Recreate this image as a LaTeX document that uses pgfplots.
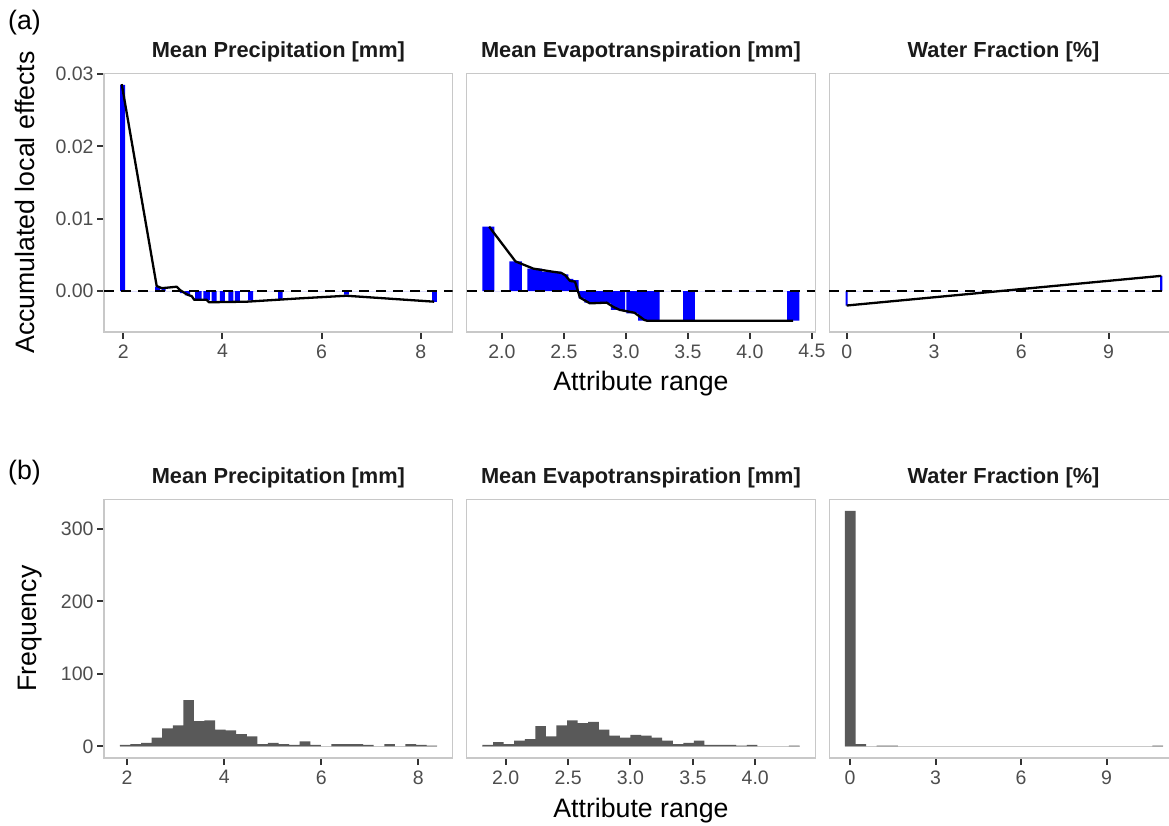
\documentclass[border=0pt]{standalone}
\usepackage{fontspec}
\setmainfont{Liberation Sans}
\usepackage{pgfplots}
\pgfplotsset{compat=1.18}

\definecolor{bordergray}{HTML}{C8C8C8}
\definecolor{tickgray}{HTML}{333333}
\definecolor{labelgray}{HTML}{4D4D4D}
\definecolor{histgray}{HTML}{595959}
\definecolor{striptext}{HTML}{1A1A1A}
\definecolor{zerogray}{HTML}{D9D9D9}

\newcommand\ticksize{\fontsize{19.5}{22}\selectfont}
\newcommand\titlesize{\fontsize{26.7}{30}\selectfont}
\newcommand\stripsize{\fontsize{21.8}{25}\selectfont\bfseries}

\pgfplotsset{
  panel/.style={
    scale only axis, width=348.7pt, height=258.7pt, anchor=north west,
    axis line style={draw=bordergray, line width=1.3pt},
    tick pos=left, tick align=outside, major tick length=7pt,
    major tick style={draw=tickgray, line width=2pt},
    ticklabel style={font=\ticksize, text=labelgray},
    xticklabel style={yshift=-2pt},
    scaled ticks=false,
    title style={at={(axis description cs:0.5,1)}, anchor=base, yshift=10pt,
      font=\stripsize, text=striptext, inner sep=0pt},
    xlabel style={font=\titlesize, inner sep=0pt},
    ylabel style={font=\titlesize, inner sep=0pt},
  },
  ale/.style={panel, ymin=-0.00566, ymax=0.0301},
  hist/.style={panel, ymin=-16, ymax=341},
  bars/.style={ybar interval, fill=blue, draw=none},
  hbars/.style={ybar interval, fill=histgray, draw=none},
  aleline/.style={black, line width=2.3pt, line join=round, mark=none},
  zeroline/.style={black, line width=2.2pt, dash pattern=on 10pt off 7pt, mark=none},
  baseline/.style={zerogray, line width=1pt, mark=none},
}

\begin{document}
\begin{tikzpicture}
\path[use as bounding box] (0pt,0pt) rectangle (1169pt,825pt);
\clip (0pt,0pt) rectangle (1169pt,825pt);

\node[anchor=base west, font=\titlesize, inner sep=0pt] at (8pt,795pt) {(a)};
\node[anchor=base west, font=\titlesize, inner sep=0pt] at (8pt,345pt) {(b)};

% ---------- (a) accumulated local effects ----------
\begin{axis}[ale, at={(104pt,751.7pt)},
  xmin=1.61, xmax=8.645,
  xtick={2,4,6,8}, xticklabels={2,4,6,8},
  ytick={0,0.01,0.02,0.03}, yticklabels={0.00,0.01,0.02,0.03},
  title={Mean Precipitation [mm]},
  ylabel={Accumulated local effects},
  ylabel style={at={(axis description cs:-0.198,0.5)}, anchor=south},
]
\addplot[bars] coordinates {
  (1.933,0.0285) (2.034,0) (2.64,0.0006) (2.74,0) (2.774,0.0003) (2.855,0)
  (3.143,-0.0003) (3.224,0) (3.244,-0.0006) (3.345,0) (3.446,-0.0012) (3.581,0)
  (3.613,-0.0013) (3.748,0) (3.782,-0.0014) (3.883,0) (3.95,-0.0014) (4.05,0)
  (4.117,-0.0014) (4.218,0) (4.252,-0.0014) (4.353,0) (4.52,-0.0013) (4.62,0)
  (5.125,-0.0011) (5.214,0) (6.456,-0.0005) (6.55,0) (8.23,-0.0015) (8.325,0)
};
\addplot[zeroline] coordinates {(1.61,0) (8.645,0)};
\addplot[aleline] coordinates {
  (1.968,0.0286) (2.673,0.0007) (2.774,0.0004) (2.875,0.00046) (3.077,0.0006)
  (3.143,0.00014) (3.244,-0.0003) (3.31,-0.00055) (3.38,-0.0007) (3.43,-0.0012)
  (3.68,-0.0012) (3.73,-0.00155) (4.49,-0.00147) (5.56,-0.00101) (6.5,-0.00065)
  (8.27,-0.00147)
};
\end{axis}

\begin{axis}[ale, at={(466.6pt,751.7pt)},
  xmin=1.716, xmax=4.528,
  xtick={2,2.5,3,3.5,4,4.5}, xticklabels={2.0,2.5,3.0,3.5,4.0,4.5},
  ytick=\empty,
  title={Mean Evapotranspiration [mm]},
  xlabel={Attribute range},
  xlabel style={at={(axis description cs:0.5,-0.228)}, anchor=base},
]
\addplot[bars] coordinates {
  (1.844,0.0089) (1.94,0) (2.061,0.0041) (2.161,0)
  (2.206,0.0031) (2.322,0.0027) (2.483,0.0023) (2.536,0.0017) (2.577,0.0015)
  (2.62,-0.001) (2.665,-0.0016) (2.72,-0.0017) (2.88,-0.0026) (2.995,0)
  (3.005,-0.0031) (3.10,-0.0041) (3.272,0) (3.462,-0.0041) (3.556,0)
  (4.30,-0.0041) (4.40,0)
};
\addplot[zeroline] coordinates {(1.716,0) (4.528,0)};
\addplot[aleline] coordinates {
  (1.898,0.0089) (2.110,0.0041) (2.254,0.0031) (2.40,0.0027) (2.48,0.0025)
  (2.51,0.0022) (2.55,0.0014) (2.59,0.0013) (2.63,-0.0009) (2.71,-0.0017)
  (2.845,-0.0016) (2.90,-0.0022) (2.95,-0.0026) (3.07,-0.0030) (3.15,-0.0040)
  (3.17,-0.0041) (4.35,-0.0041)
};
\end{axis}

\begin{axis}[ale, at={(829.2pt,751.7pt)},
  xmin=-0.6, xmax=11.38,
  xtick={0,3,6,9}, xticklabels={0,3,6,9},
  ytick=\empty,
  title={Water Fraction [\%]},
]
\addplot[bars] coordinates {
  (-0.035,-0.0020) (0.035,0) (10.77,0.0021) (10.85,0)
};
\addplot[zeroline] coordinates {(-0.6,0) (11.38,0)};
\addplot[aleline] coordinates {(0,-0.0020) (10.81,0.0021)};
\end{axis}

% ---------- (b) histograms ----------
\begin{axis}[hist, at={(104pt,325.7pt)},
  xmin=1.523, xmax=8.71,
  xtick={2,4,6,8}, xticklabels={2,4,6,8},
  ytick={0,100,200,300}, yticklabels={0,100,200,300},
  title={Mean Precipitation [mm]},
  ylabel={Frequency},
  ylabel style={at={(axis description cs:-0.178,0.5)}, anchor=south},
]
\addplot[baseline] coordinates {(1.85,0) (8.39,0)};
\addplot[hbars] coordinates {
  (1.850,2) (2.068,3) (2.286,5) (2.504,12) (2.722,25) (2.940,29)
  (3.158,64) (3.376,35) (3.594,36) (3.812,23) (4.030,22) (4.248,17)
  (4.466,14) (4.684,3) (4.902,5) (5.120,3) (5.338,2) (5.556,7)
  (5.774,2) (5.992,0) (6.210,3) (6.428,3) (6.646,3) (6.864,2)
  (7.082,0) (7.300,3) (7.518,0) (7.736,3) (7.954,2) (8.172,1) (8.390,0)
};
\end{axis}

\begin{axis}[hist, at={(466.6pt,325.7pt)},
  xmin=1.687, xmax=4.481,
  xtick={2,2.5,3,3.5,4}, xticklabels={2.0,2.5,3.0,3.5,4.0},
  ytick=\empty,
  title={Mean Evapotranspiration [mm]},
  xlabel={Attribute range},
  xlabel style={at={(axis description cs:0.5,-0.231)}, anchor=base},
]
\addplot[baseline] coordinates {(1.814,0) (4.355,0)};
\addplot[hbars] coordinates {
  (1.814,2) (1.899,6) (1.983,3) (2.068,8) (2.153,10) (2.238,28)
  (2.322,14) (2.407,29) (2.492,36) (2.576,32) (2.661,34) (2.746,23)
  (2.830,15) (2.915,12) (3.000,16) (3.085,15) (3.169,12) (3.254,8)
  (3.339,3) (3.423,5) (3.508,8) (3.593,2) (3.677,2) (3.762,2)
  (3.847,1) (3.932,2) (4.016,0) (4.270,1) (4.355,0)
};
\end{axis}

\begin{axis}[hist, at={(829.2pt,325.7pt)},
  xmin=-0.73, xmax=11.5,
  xtick={0,3,6,9}, xticklabels={0,3,6,9},
  ytick=\empty,
  title={Water Fraction [\%]},
]
\addplot[baseline] coordinates {(-0.18,0) (10.98,0)};
\addplot[hbars] coordinates {
  (-0.180,325) (0.192,3) (0.564,0) (0.936,1) (1.308,1) (1.680,0)
  (10.608,1) (10.980,0)
};
\end{axis}
\end{tikzpicture}
\end{document}
